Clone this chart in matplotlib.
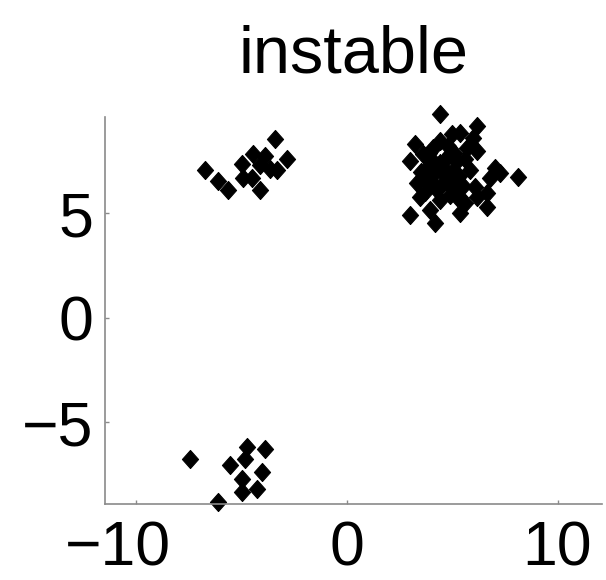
import matplotlib
matplotlib.use("Agg")
import matplotlib.pyplot as plt
import matplotlib.transforms as mtransforms
import numpy as np

plt.rcParams['font.family'] = ['Liberation Sans', 'DejaVu Sans']

title = "instable"
xticks = [-10, 0, 10]
yticks = [-5, 0, 5]

# cluster: top-left
c1_x = [-6.75, -6.13, -5.65, -4.99, -4.94, -4.47, -4.13, -3.90, -3.66, -4.13, -3.42, -2.85, -4.51, -3.33]
c1_y = [7.05, 6.57, 6.10, 7.38, 6.71, 7.86, 7.29, 7.76, 7.14, 6.10, 8.57, 7.62, 6.67, 7.05]

# cluster: top-right
c2_x = [4.42, 6.18, 4.99, 5.37, 3.23, 2.99, 3.61, 7.03, 8.12, 6.79, 2.99, 4.18, 5.37, 6.65,
        3.47, 3.33, 6.08, 5.23, 4.42, 4.04, 4.56, 5.23, 5.84, 5.70, 4.09, 3.80, 4.75, 5.23,
        4.42, 6.18, 4.28, 6.18, 3.61, 4.89, 5.99, 6.65, 3.94, 7.27,
        4.00, 4.60, 5.00, 3.70, 5.50, 4.20, 4.80, 5.60, 3.50,
        4.40, 5.00, 4.70, 5.30, 4.00, 4.50, 5.10, 3.90, 4.90, 5.60]
c2_y = [9.76, 9.19, 8.81, 8.86, 8.33, 7.52, 7.86, 7.19, 6.76, 6.71, 4.90, 4.52, 5.00, 5.29,
        5.76, 6.43, 6.24, 5.76, 5.62, 6.43, 7.19, 7.52, 7.05, 8.14, 8.14, 7.19, 6.57, 6.71,
        8.48, 8.00, 6.10, 5.76, 6.71, 7.86, 8.62, 5.95, 5.14, 6.95,
        7.60, 6.90, 6.20, 6.00, 6.30, 7.00, 8.20, 5.50, 7.00,
        7.40, 7.00, 7.60, 6.80, 6.80, 6.40, 7.90, 7.90, 5.90, 7.60]

# cluster: bottom-left
c3_x = [-7.46, -5.56, -4.75, -4.85, -3.90, -4.99, -4.04, -4.28, -4.99, -6.13]
c3_y = [-6.76, -7.05, -6.19, -6.76, -6.29, -7.71, -7.38, -8.19, -8.33, -8.81]

fig = plt.figure(figsize=(6.06, 5.80), dpi=100)
ax = fig.add_axes([0.173, 0.131, 0.820, 0.667])

diamond = [(0, -1.12), (1, 0), (0, 1.12), (-1, 0), (0, -1.12)]
for xs, ys in [(c1_x, c1_y), (c2_x, c2_y), (c3_x, c3_y)]:
    ax.plot(xs, ys, linestyle='none', marker=diamond, markersize=13,
            color='black', markeredgewidth=0.8, clip_on=False)

ax.set_xlim(-11.5, 12.1)
ax.set_ylim(-8.9, 9.6)
ax.set_xticks(xticks)
ax.set_yticks(yticks)
ax.set_xticklabels([str(v).replace('-', '\u2212') for v in xticks])
ax.set_yticklabels([str(v).replace('-', '\u2212') for v in yticks])

for s in ['top', 'right']:
    ax.spines[s].set_visible(False)
for s in ['left', 'bottom']:
    ax.spines[s].set_color('#8a8a8a')
    ax.spines[s].set_linewidth(1.2)

ax.tick_params(direction='in', length=3, width=1, color='#8a8a8a',
               labelsize=45, labelcolor='black')
ax.tick_params(axis='x', pad=11)
ax.tick_params(axis='y', pad=8)

# shift the leftmost x label slightly left, as in the reference
lbl = ax.get_xticklabels()[0]
lbl.set_transform(lbl.get_transform() + mtransforms.ScaledTranslation(-18 / 100, 0, fig.dpi_scale_trans))

ax.set_title(title, fontsize=48, pad=32)

fig.savefig('out.png', dpi=100, facecolor='white')
